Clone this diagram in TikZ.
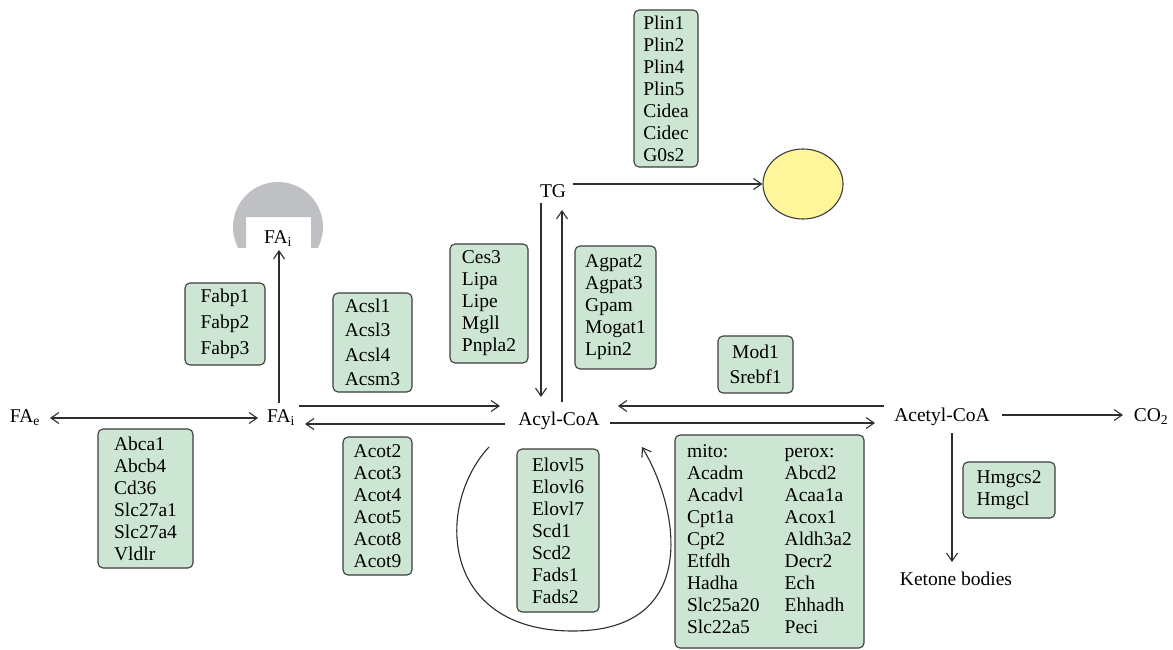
\documentclass[tikz,border=0pt]{standalone}
\usepackage{fontspec}
\setmainfont{LiberationSerif}[Extension=.ttf,UprightFont=*-Regular,BoldFont=*-Bold,ItalicFont=*-Italic]
\usetikzlibrary{arrows.meta}
\usetikzlibrary{shapes.geometric}

\definecolor{boxfill}{RGB}{205,230,212}
\definecolor{boxline}{RGB}{60,60,60}
\definecolor{arrowline}{RGB}{45,45,45}
\definecolor{capgray}{RGB}{191,192,196}
\definecolor{dropfill}{RGB}{255,245,155}

\tikzset{
  genebox/.style={rectangle,draw=boxline,fill=boxfill,rounded corners=5pt,line width=1.1pt,align=left,inner sep=0pt},
  metab/.style={inner sep=0pt,anchor=base},
  flow/.style={draw=arrowline,line width=1.1pt},
}

\begin{document}
\begin{tikzpicture}[x=1pt,y=-1pt,>={Straight Barb[length=8pt,width=11pt]},
  every node/.style={font=\fontsize{19.5}{22}\selectfont}]
\useasboundingbox (0,0) rectangle (1173,650);

% cap over the inner fatty acid
\begin{scope}
\clip (225,170) rectangle (335,247);
\fill[capgray,even odd rule] (278,227) circle (45pt) (246,217) rectangle (311,250);
\end{scope}

% metabolites
\node[metab] (fae) at (25,422) {FA\textsubscript{e}};
\node[metab] (fai) at (281,422) {FA\textsubscript{i}};
\node[metab] (faitop) at (278,243) {FA\textsubscript{i}};
\node[metab] (tg) at (553,197) {TG};
\node[metab] (acyl) at (559,425) {Acyl-CoA};
\node[metab] (acetyl) at (942,421) {Acetyl-CoA};
\node[metab] (co2) at (1151,421) {CO\textsubscript{2}};
\node[metab] (ketone) at (956,585) {Ketone bodies};
\node[ellipse,draw=boxline,fill=dropfill,line width=1.1pt,minimum width=80pt,minimum height=70pt,inner sep=0pt] (drop) at (803,184) {};

% gene boxes
\node[genebox,minimum width=64pt,minimum height=157pt] (plin) at (666,88.5) {Plin1\\Plin2\\Plin4\\Plin5\\Cidea\\Cidec\\G0s2};
\node[genebox,minimum width=78pt,minimum height=119pt] (ces) at (489,303.5) {Ces3\\Lipa\\Lipe\\Mgll\\Pnpla2};
\node[genebox,minimum width=81pt,minimum height=123pt] (agpat) at (615.5,307.5) {Agpat2\\Agpat3\\Gpam\\Mogat1\\Lpin2};
\node[genebox,align=center,minimum width=75pt,minimum height=57pt,font=\fontsize{19.5}{25}\selectfont] (mod) at (755.5,364.5) {Mod1\\Srebf1};
\node[genebox,align=center,minimum width=80pt,minimum height=82pt,font=\fontsize{19.5}{26}\selectfont] (fabp) at (225,324) {Fabp1\\Fabp2\\Fabp3};
\node[genebox,minimum width=79pt,minimum height=99pt,font=\fontsize{19.5}{24.5}\selectfont] (acsl) at (372.5,342.5) {Acsl1\\Acsl3\\Acsl4\\Acsm3};
\node[genebox,minimum width=95pt,minimum height=139pt] (abca) at (145.5,498.5) {Abca1\\Abcb4\\Cd36\\Slc27a1\\Slc27a4\\Vldlr};
\node[genebox,minimum width=69pt,minimum height=138pt] (acot) at (377.5,506) {Acot2\\Acot3\\Acot4\\Acot5\\Acot8\\Acot9};
\node[genebox,minimum width=82pt,minimum height=163pt] (elovl) at (558,530.5) {Elovl5\\Elovl6\\Elovl7\\Scd1\\Scd2\\Fads1\\Fads2};
\node[genebox,minimum width=189pt,minimum height=213pt] (beta) at (769.5,541.5) {%
\begin{tabular}{@{}l@{\hspace{25pt}}l@{}}
mito: & perox:\\
Acadm & Abcd2\\
Acadvl & Acaa1a\\
Cpt1a & Acox1\\
Cpt2 & Aldh3a2\\
Etfdh & Decr2\\
Hadha & Ech\\
Slc25a20 & Ehhadh\\
Slc22a5 & Peci
\end{tabular}};
\node[genebox,minimum width=92pt,minimum height=56pt] (hmg) at (1009,490) {Hmgcs2\\Hmgcl};

% connectors
\draw[flow,<->] ([shift={(25,-4)}]fae.base) -- ([shift={(-23,-4)}]fai.base);
\draw[flow,->] ([shift={(-2,-19)}]fai.base) -- ([shift={(1,7)}]faitop.base);
\draw[flow,->] ([shift={(18,-16)}]fai.base) -- ([shift={(-59,-19)}]acyl.base);
\draw[flow,->] ([shift={(-54,-1)}]acyl.base) -- ([shift={(24,2)}]fai.base);
\draw[flow,->] ([shift={(-12,6)}]tg.base) -- ([shift={(-18,-28)}]acyl.base);
\draw[flow,->] ([shift={(3,-23)}]acyl.base) -- ([shift={(9,13)}]tg.base);
\draw[flow,->] ([shift={(20,-13)}]tg.base) -- (drop.west);
\draw[flow,->] ([shift={(-58,-15)}]acetyl.base) -- ([shift={(59,-19)}]acyl.base);
\draw[flow,->] ([shift={(51,-2)}]acyl.base) -- ([shift={(-67,2)}]acetyl.base);
\draw[flow,->] ([shift={(60,-6)}]acetyl.base) -- ([shift={(-28,-6)}]co2.base);
\draw[flow,->] ([shift={(10,12)}]acetyl.base) -- ([shift={(-4,-23)}]ketone.base);

% elongation loop
\coordinate (loopbot) at (573,631);
\draw[flow,->] ([shift={(-70,22)}]acyl.base) .. controls +(-54,58) and +(-133,0) .. (loopbot)
  .. controls +(127,0) and +(38,63) .. ([shift={(83,22)}]acyl.base);

\end{tikzpicture}
\end{document}
